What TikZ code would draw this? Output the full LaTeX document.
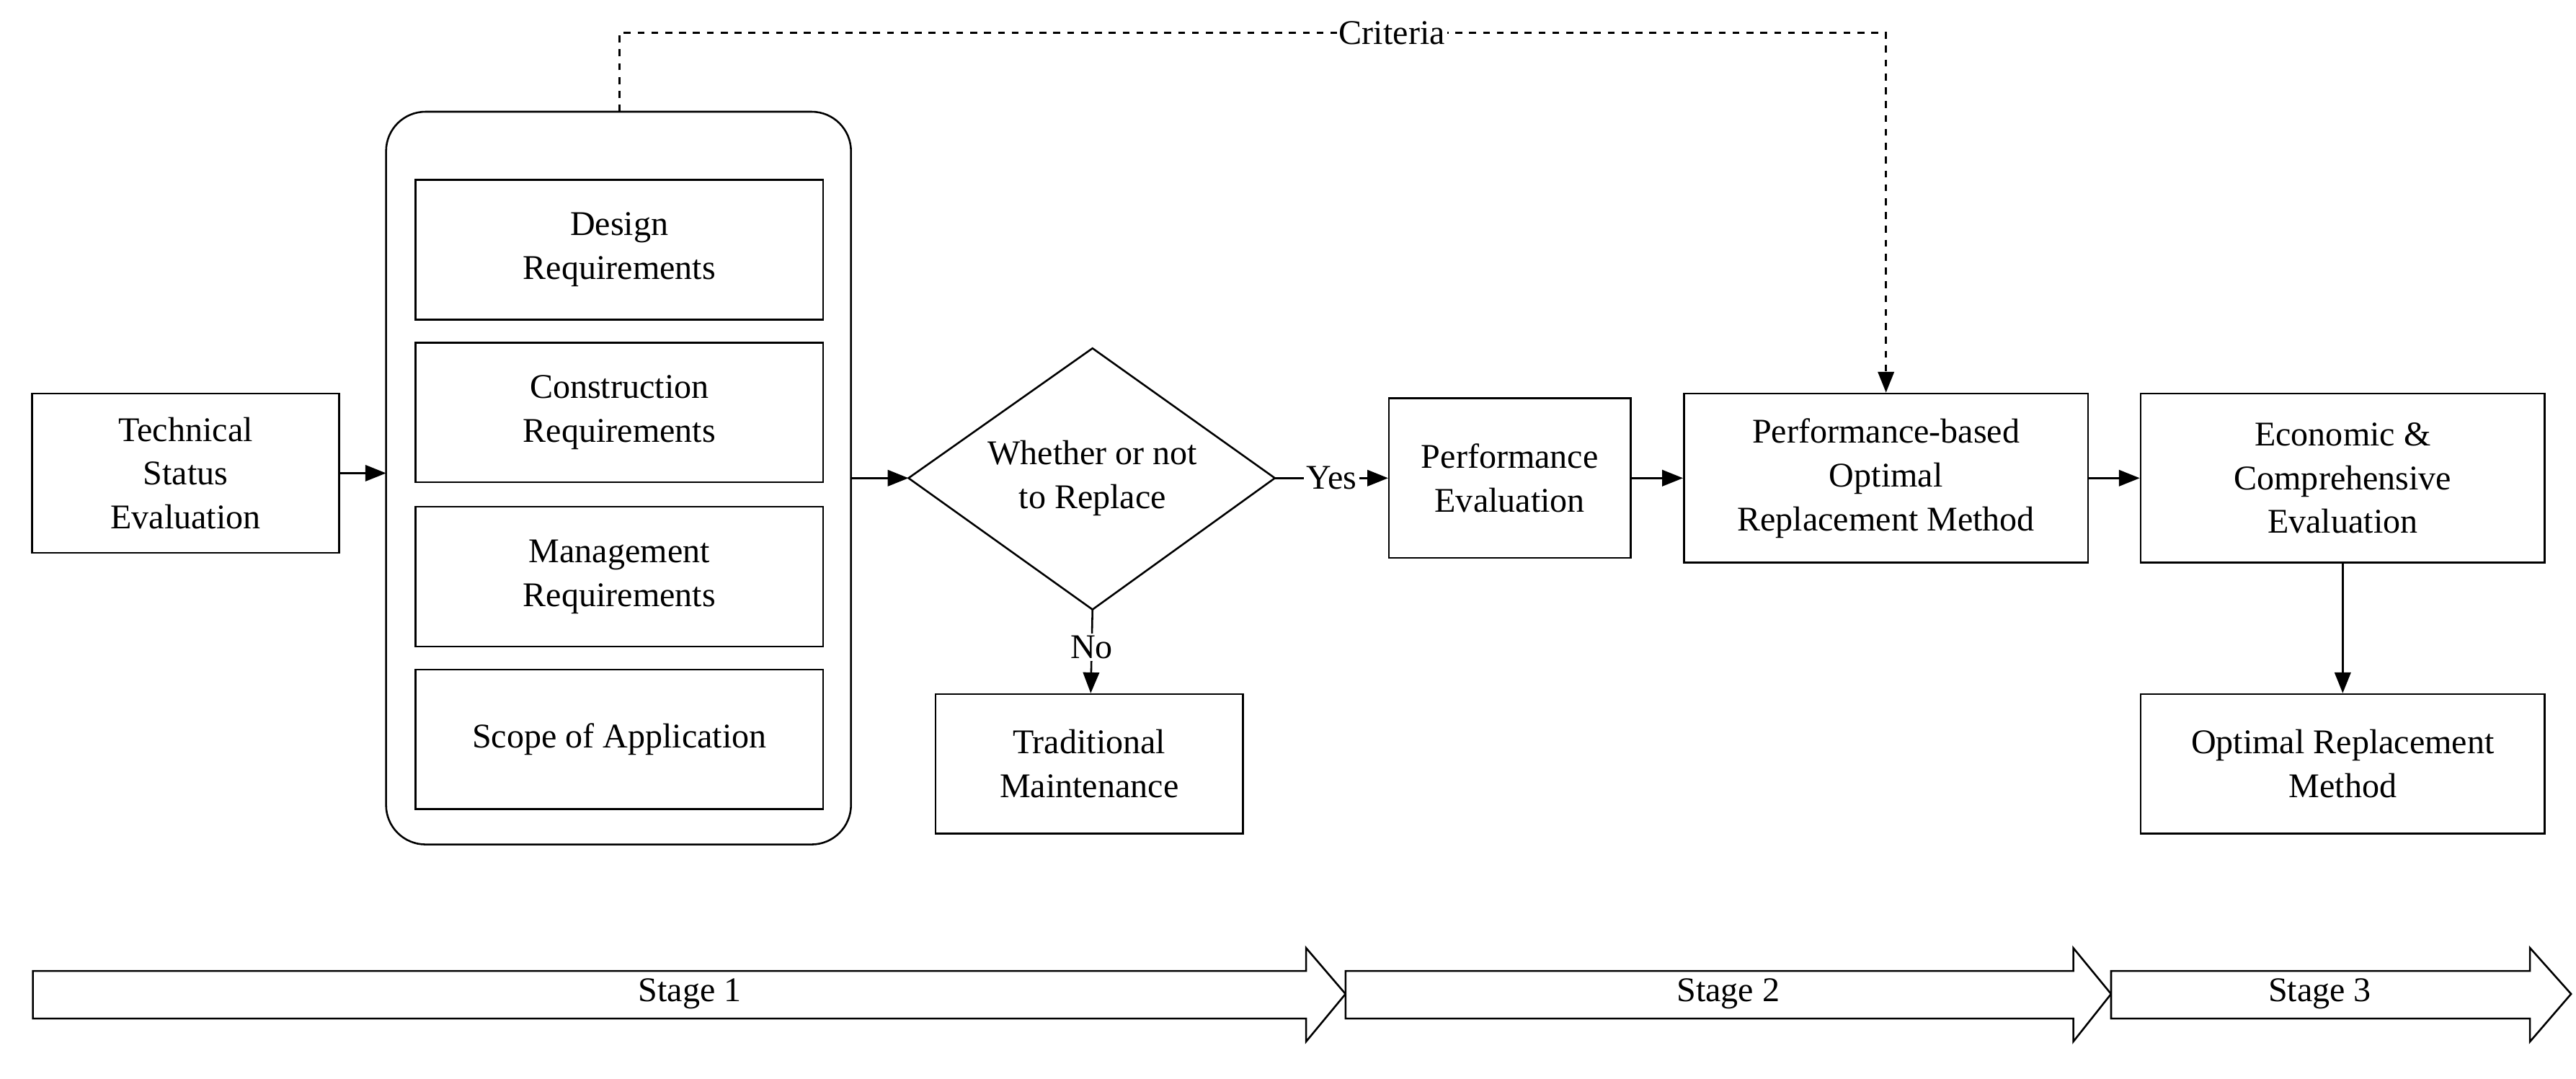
\documentclass[tikz,border=0pt]{standalone}
\usepackage{fontspec}
\setmainfont{Liberation Serif}
\usetikzlibrary{arrows.meta,shapes.geometric}
\tikzset{
  box/.style={draw, thick, align=center, inner sep=0pt},
  arr/.style={thick, -{Triangle[length=9pt,width=7pt]}},
  stage/.style={draw, thick, fill=white}
}
\begin{document}
\begin{tikzpicture}[x=0.025cm, y=-0.025cm, font=\fontsize{15}{19}\selectfont]
\useasboundingbox (0,0) rectangle (1568,656.7);
% boxes
\node[box, minimum width=187*0.025cm, minimum height=97*0.025cm] (tech) at (113,288) {Technical\\Status\\Evaluation};
\draw[thick, rounded corners=0.6cm] (235,68) rectangle (518,514);
\coordinate (grp) at (377,68);
\coordinate (grpl) at (235,288);
\coordinate (grpr) at (518,291);
\node[box, minimum width=248*0.025cm, minimum height=85*0.025cm] (design) at (377,152) {Design\\Requirements};
\node[box, minimum width=248*0.025cm, minimum height=85*0.025cm] (constr) at (377,251) {Construction\\Requirements};
\node[box, minimum width=248*0.025cm, minimum height=85*0.025cm] (manage) at (377,351) {Management\\Requirements};
\node[box, minimum width=248*0.025cm, minimum height=85*0.025cm] (scope) at (377,450) {Scope of Application};
\draw[thick] (665,212) -- (776,291) -- (665,371) -- (553,291) -- cycle;
\node[align=center] (decide) at (665,291) {Whether or not\\to Replace};
\coordinate (dl) at (553,291);
\coordinate (dr) at (776,291);
\coordinate (db) at (665,371);
\node[box, minimum width=187*0.025cm, minimum height=85*0.025cm] (trad) at (663,465) {Traditional\\Maintenance};
\node[box, minimum width=147*0.025cm, minimum height=97*0.025cm] (perf) at (919,291) {Performance\\Evaluation};
\node[box, minimum width=246*0.025cm, minimum height=103*0.025cm] (pbased) at (1148,291) {Performance-based\\Optimal\\Replacement Method};
\node[box, minimum width=246*0.025cm, minimum height=103*0.025cm] (econ) at (1426,291) {Economic \&\\Comprehensive\\Evaluation};
\node[box, minimum width=246*0.025cm, minimum height=85*0.025cm] (optimal) at (1426,465) {Optimal Replacement\\Method};
% connectors
\draw[arr] (tech) -- (grpl);
\draw[arr] (grpr) -- (dl);
\draw[arr] (dr) -- node[fill=white, inner sep=1pt] {Yes} (perf);
\draw[arr] (db) -- node[fill=white, inner sep=1pt, pos=0.45] {No} (trad);
\draw[arr] (perf) -- (pbased);
\draw[arr] (pbased) -- (econ);
\draw[arr] (econ) -- (optimal);
\draw[arr, dashed] (grp) -- (377,20) -- node[fill=white, inner sep=1pt, pos=0.61] {Criteria} (1148,20) -- (pbased.north);
% stages
\draw[stage] (20,591) -- (795,591) -- (795,577) -- (819,605) -- (795,634) -- (795,620) -- (20,620) -- cycle;
\draw[stage] (819,591) -- (1262,591) -- (1262,577) -- (1285,605) -- (1262,634) -- (1262,620) -- (819,620) -- cycle;
\draw[stage] (1285,591) -- (1540,591) -- (1540,577) -- (1565,605) -- (1540,634) -- (1540,620) -- (1285,620) -- cycle;
\node (s1) at (420,605) {Stage 1};
\node (s2) at (1052,605) {Stage 2};
\node (s3) at (1412,605) {Stage 3};
\end{tikzpicture}
\end{document}
